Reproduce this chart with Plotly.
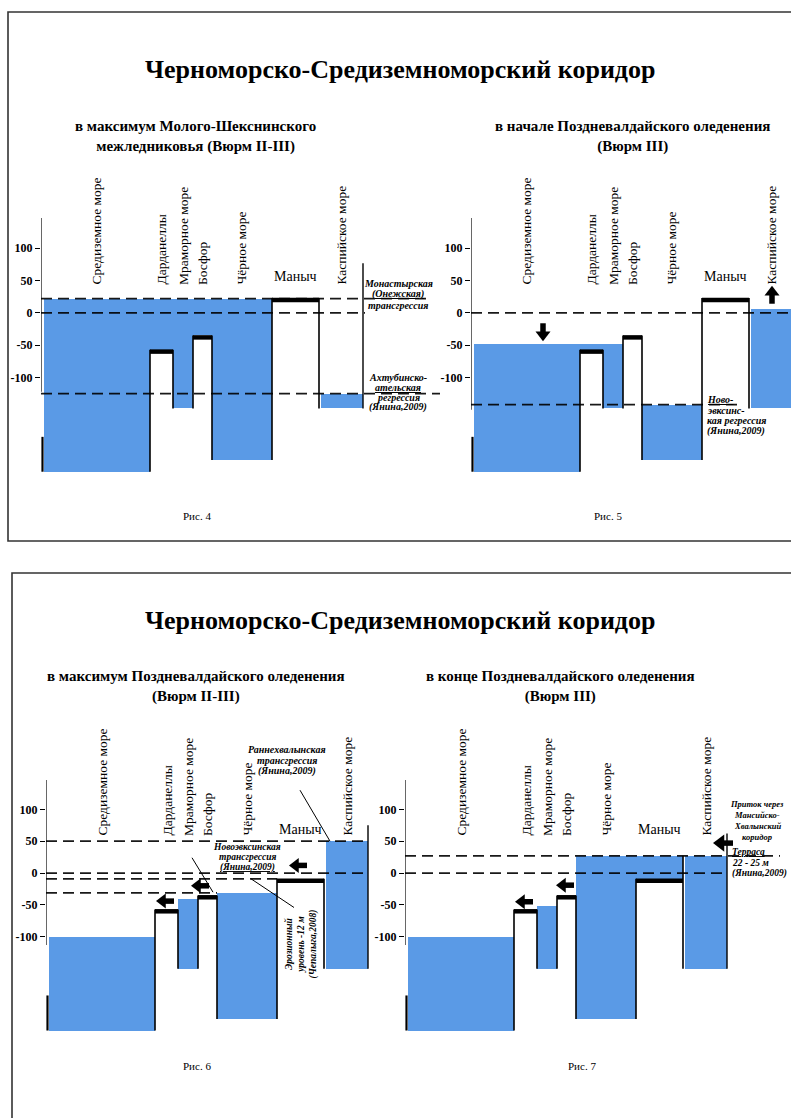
import plotly.graph_objects as go

W, H = 791, 1118
FONT = "Liberation Serif"
BLUE = "#5A9AE6"

# ---------------- data ----------------
segments = ["Средиземное море", "Дарданеллы", "Мраморное море", "Босфор",
            "Чёрное море", "Маныч", "Каспийское море"]
# schematic along-corridor extent of each segment
seg_left = [3, 109, 132, 152, 171, 231, 280]
seg_right = [109, 132, 152, 171, 231, 278, 322]
is_sill = [False, True, False, True, False, True, False]

# bottom / sill-top profile, m
bed_fig45 = [-246, -57, -148, -35, -228, 23, -148]
bed_fig67 = [-247, -57, -150, -35, -229, -9, -150]

# water level in each segment, m (None = dry)
level_fig4 = [22, 22, 22, 22, 22, None, -125]
level_fig5 = [-48, -48, -48, None, -142, None, 6]
level_fig6 = [-100, None, -40, None, -31, None, 50]
level_fig7 = [-100, None, -52, None, 27, 27, 27]

# reference levels (dashed), m
dashed_fig4 = [22, 0, -125]
dashed_fig5 = [0, -142]
dashed_fig6 = [50, 0, -9, -31]
dashed_fig7 = [27, 0]

tick_vals = [100, 50, 0, -50, -100]
tick_text = ["100", "50", "0", "-50", "-100"]

main_title = "Черноморско-Средиземноморский коридор"
subtitles = ["в максимум Молого-Шекснинского<br>межледниковья (Вюрм II-III)",
             "в начале Поздневалдайского оледенения<br>(Вюрм III)",
             "в максимум Поздневалдайского оледенения<br>(Вюрм II-III)",
             "в конце Поздневалдайского оледенения<br>(Вюрм III)"]
fig_labels = ["Рис. 4", "Рис. 5", "Рис. 6", "Рис. 7"]

# ---------------- layout helpers ----------------
YR = [-265, 215]
panels = [
    dict(px=(41, 441), xr=[0, 400], py=(174, 484), bed=bed_fig45, lvl=level_fig4,
         dashed=dashed_fig4, dash_end=[390, 324, 399], axis=(147, -122), casp_top=77,
         lab_y=40, man_y=57),
    dict(px=(471, 791), xr=[0, 320], py=(174, 484), bed=bed_fig45, lvl=level_fig5,
         dashed=dashed_fig5, dash_end=[322, 268], axis=(147, -150), casp_top=None,
         lab_y=40, man_y=57),
    dict(px=(46, 446), xr=[0, 400], py=(736, 1042), bed=bed_fig67, lvl=level_fig6,
         dashed=dashed_fig6, dash_end=[322, 322, 231, 171], axis=(146, -113), casp_top=75,
         lab_y=55, man_y=69),
    dict(px=(405, 791), xr=[0, 386], py=(736, 1042), bed=bed_fig67, lvl=level_fig7,
         dashed=dashed_fig7, dash_end=[375, 322], axis=(146, -113), casp_top=62,
         lab_y=55, man_y=69),
]
for p in panels:
    p["ppu"] = (p["py"][1] - p["py"][0]) / (YR[1] - YR[0])  # pixels per metre

fig = go.Figure()
annotations = []
layout_axes = {}


def line(xa, ya, xs, ys, width=1.5, color="black", dash=None):
    fig.add_trace(go.Scatter(x=xs, y=ys, mode="lines", xaxis=xa, yaxis=ya,
                             line=dict(color=color, width=width, dash=dash),
                             showlegend=False, hoverinfo="skip"))


for k, p in enumerate(panels, start=1):
    sfx = "" if k == 1 else str(k)
    xa, ya = "x" + sfx, "y" + sfx
    layout_axes["xaxis" + sfx] = dict(domain=[p["px"][0] / W, min(1.0, p["px"][1] / W)],
                                      range=p["xr"], visible=False, anchor=ya,
                                      fixedrange=True)
    layout_axes["yaxis" + sfx] = dict(domain=[1 - p["py"][1] / H, 1 - p["py"][0] / H],
                                      range=YR, anchor=xa, showgrid=False, zeroline=False,
                                      showline=False, ticks="outside", ticklen=5,
                                      tickwidth=1.3, tickcolor="black",
                                      tickvals=tick_vals, ticktext=tick_text,
                                      tickfont=dict(family=FONT, size=12, color="black",
                                                    weight="bold"),
                                      fixedrange=True)
    bed, lvl = p["bed"], p["lvl"]
    # water bodies
    xs, base, hgt, wid = [], [], [], []
    for i in range(len(segments)):
        if lvl[i] is not None and lvl[i] > bed[i]:
            xs.append((seg_left[i] + seg_right[i]) / 2)
            base.append(bed[i])
            hgt.append(lvl[i] - bed[i])
            wid.append(seg_right[i] - seg_left[i] + 0.6)
    fig.add_trace(go.Bar(x=xs, y=hgt, base=base, width=wid, xaxis=xa, yaxis=ya,
                         marker=dict(color=BLUE, line=dict(width=0)),
                         showlegend=False, hoverinfo="skip"))
    # dashed levels
    for lv, xe in zip(p["dashed"], p["dash_end"]):
        line(xa, ya, [0, xe], [lv, lv], width=1.8, color="rgba(0,0,0,0.9)", dash="11px,6px")
    # axis line and left edge of the Mediterranean
    line(xa, ya, [0, 0], list(p["axis"]), width=1.2)
    line(xa, ya, [1.5, 1.5], [-192, bed[0]], width=2.2)
    # sills: side walls and black caps
    for i in range(len(segments)):
        if not is_sill[i]:
            continue
        line(xa, ya, [seg_left[i], seg_left[i]], [bed[i], bed[i - 1]], width=1.6)
        top_r = bed[i]
        if lvl[i] is not None and seg_left[i + 1] > seg_right[i]:
            top_r = lvl[i]
        line(xa, ya, [seg_right[i], seg_right[i]], [top_r, bed[i + 1]], width=1.6)
        line(xa, ya, [seg_left[i], seg_right[i]], [bed[i] - 3, bed[i] - 3], width=4.5)
    if p["casp_top"] is not None:
        line(xa, ya, [seg_right[6], seg_right[6]], [p["casp_top"], bed[6]], width=1.4)
    # segment names
    for i, name in enumerate(segments):
        cx = (seg_left[i] + seg_right[i]) / 2
        if name == "Маныч":
            annotations.append(dict(x=cx, y=p["man_y"], xref=xa, yref=ya, text=name,
                                    showarrow=False, xanchor="center", yanchor="middle",
                                    font=dict(family=FONT, size=14, color="black")))
        else:
            annotations.append(dict(x=cx, y=p["lab_y"], xref=xa, yref=ya, text=name,
                                    textangle=-90, showarrow=False, xanchor="center",
                                    yanchor="bottom",
                                    font=dict(family=FONT, size=13.5, color="black")))
    p["xa"], p["ya"] = xa, ya


def note(k, lines, x, y, size=10, gap=10.5, xanchor="center"):
    """Multi-line italic bold note; each line placed separately (gap in px)."""
    p = panels[k - 1]
    n = len(lines)
    for j, t in enumerate(lines):
        yy = y + ((n - 1) / 2 - j) * gap / p["ppu"]
        annotations.append(dict(x=x, y=yy, xref=p["xa"], yref=p["ya"],
                                text="<b><i>" + t + "</i></b>", showarrow=False,
                                xanchor=xanchor, yanchor="middle",
                                font=dict(family=FONT, size=size, color="black")))


SYM = {"left": "triangle-left", "up": "triangle-up", "down": "triangle-down"}
DIRV = {"left": (-1, 0), "up": (0, 1), "down": (0, -1)}


def arrow(k, hx, hy, direction, length=18, head=13):
    """Block arrow with tip at (hx, hy); length/head in px."""
    p = panels[k - 1]
    dx, dy = DIRV[direction]
    upx = 1.0           # px per x unit
    upy = p["ppu"]      # px per y unit
    off = head / 2
    cx, cy = hx - dx * off / upx, hy - dy * off / upy
    tx, ty = hx - dx * length / upx, hy - dy * length / upy
    line(p["xa"], p["ya"], [tx, cx], [ty, cy], width=5.5)
    fig.add_trace(go.Scatter(x=[cx], y=[cy], mode="markers", xaxis=p["xa"], yaxis=p["ya"],
                             marker=dict(symbol=SYM[direction], size=head, color="black",
                                         line=dict(width=0)),
                             showlegend=False, hoverinfo="skip"))


# annotations inside panels
note(1, ["Монастырская", "<u>(Онежская)</u>", "трансгрессия"], 357, 29, gap=11)
note(1, ["Ахтубинско-", "<u>ательская</u>", "регрессия", "(Янина,2009)"], 357, -123, gap=10)
note(2, ["<u>Ново-</u>", "эвксинс-", "кая регрессия", "(Янина,2009)"], 234, -159,
     xanchor="left", gap=10.5)
note(3, ["Раннехвалынская", "трансгрессия", "(Янина,2009)"], 241, 177, gap=11)
note(3, ["Новоэвксинская", "трансгрессия", "<u>(Янина,2009)</u>"], 201, 25, size=9.5,
     gap=10.5)
annotations.append(dict(x=256, y=-112, xref="x3", yref="y3",
                        text="<b><i>Эрозионный<br>уровень -12 м<br>(Чепалыга,2008)</i></b>",
                        showarrow=False, textangle=-90, xanchor="center", yanchor="middle",
                        font=dict(family=FONT, size=9.5, color="black")))
note(4, ["Приток через", "Мансийско-", "Хвалынский", "коридор"], 352, 82, size=8.5,
     gap=11)
note(4, ["<u>Терраса</u>", "22 - 25 м", "(Янина,2009)"], 325, 16, size=9.5,
     xanchor="left", gap=10.5)

# leader lines
line("x3", "y3", [254, 284], [130, 50], width=1)
line("x3", "y3", [146, 167], [24, -30], width=1)
line("x3", "y3", [205, 248], [-9, -54], width=1)

# flow arrows (tip position, direction)
arrow(2, 72, -44, "down")
arrow(2, 301, 42, "up")
arrow(3, 243, 12, "left")
arrow(3, 145, -20, "left")
arrow(3, 110, -44, "left")
arrow(4, 110, -45, "left")
arrow(4, 151, -19, "left")
arrow(4, 308, 47, "left", length=20, head=15)

# titles and captions (paper)
for yy in (70, 620):
    annotations.append(dict(x=400 / W, y=1 - yy / H, xref="paper", yref="paper",
                            text="<b>" + main_title + "</b>", showarrow=False,
                            xanchor="center", yanchor="middle",
                            font=dict(family=FONT, size=26, color="black")))
for (cx, cy), t in zip([(195, 137), (632, 137), (196, 686), (560, 686)], subtitles):
    annotations.append(dict(x=cx / W, y=1 - cy / H, xref="paper", yref="paper",
                            text="<b>" + t + "</b>", showarrow=False,
                            xanchor="center", yanchor="middle",
                            font=dict(family=FONT, size=15, color="black")))
for (cx, cy), t in zip([(197, 516), (608, 516), (197, 1066), (582, 1066)], fig_labels):
    annotations.append(dict(x=cx / W, y=1 - cy / H, xref="paper", yref="paper",
                            text=t, showarrow=False, xanchor="center", yanchor="middle",
                            font=dict(family=FONT, size=11, color="black")))

shapes = [
    dict(type="rect", xref="paper", yref="paper", x0=8 / W, y0=1 - 541 / H, x1=1.02,
         y1=1 - 12 / H, line=dict(color="#333", width=1.6)),
    dict(type="rect", xref="paper", yref="paper", x0=12 / W, y0=-0.02, x1=1.02,
         y1=1 - 573 / H, line=dict(color="#333", width=1.6)),
]

fig.update_layout(width=W, height=H, margin=dict(l=0, r=0, t=0, b=0),
                  paper_bgcolor="white", plot_bgcolor="rgba(0,0,0,0)",
                  showlegend=False, annotations=annotations, shapes=shapes,
                  bargap=0, **layout_axes)

fig.write_html("out.html", config={"displayModeBar": False},
               post_script="document.body.style.margin='0';"
                           "document.body.style.overflow='hidden';")
